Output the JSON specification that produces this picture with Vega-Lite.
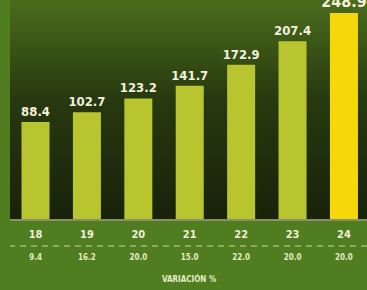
{
  "$schema": "https://vega.github.io/schema/vega-lite/v6.json",
  "autosize": {"type": "none"},
  "width": 357,
  "height": 221,
  "padding": {"left": 10, "top": 0, "right": 0, "bottom": 69},
  "background": "#4f7d1f",
  "config": {"view": {"stroke": null}},
  "datasets": {
    "bars": [
      {"year": "18", "value": 88.4, "pct": "9.4"},
      {"year": "19", "value": 102.7, "pct": "16.2"},
      {"year": "20", "value": 123.2, "pct": "20.0"},
      {"year": "21", "value": 141.7, "pct": "15.0"},
      {"year": "22", "value": 172.9, "pct": "22.0"},
      {"year": "23", "value": 207.4, "pct": "20.0"},
      {"year": "24", "value": 248.9, "pct": "20.0"}
    ],
    "bg": [{"top": 268.1, "bottom": -57.4, "line": -55.8, "dash": -94.2, "pctrow": -111.9}]
  },
  "layer": [
    {
      "data": {"name": "bg"},
      "mark": {"type": "rect", "color": {"gradient": "linear", "x1": 0, "y1": 0, "x2": 0, "y2": 1,
        "stops": [{"offset": 0, "color": "#4b6c1c"}, {"offset": 0.45, "color": "#27390f"}, {"offset": 1, "color": "#17220a"}]}},
      "encoding": {
        "y": {"field": "top", "type": "quantitative", "scale": {"domain": [-57.4, 268.1], "zero": false, "nice": false}, "axis": null},
        "y2": {"field": "bottom"}
      }
    },
    {
      "data": {"name": "bars"},
      "mark": {"type": "bar"},
      "encoding": {
        "x": {"field": "year", "type": "nominal", "sort": null,
          "scale": {"paddingInner": 0.455, "paddingOuter": 0.2, "align": 0.56},
          "axis": {"title": "VARIACIÓN %", "domain": false, "ticks": false, "labelAngle": 0,
            "labelColor": "#eef0d8", "labelFont": "DejaVu Sans Condensed", "labelFontWeight": "bold", "labelFontSize": 11,
            "labelPadding": 7, "titleColor": "#e6ecc8", "titleFont": "DejaVu Sans Condensed", "titleFontWeight": "bold",
            "titleFontSize": 8, "titlePadding": 36}},
        "y": {"field": "value", "type": "quantitative", "scale": {"domain": [-57.4, 268.1], "zero": false, "nice": false}, "axis": null},
        "y2": {"datum": -54.5},
        "color": {"condition": {"test": "datum.year == '24'", "value": "#f6d70a"}, "value": "#b8c52f"}
      }
    },
    {
      "data": {"name": "bars"},
      "mark": {"type": "text", "baseline": "bottom", "dy": -3, "font": "DejaVu Sans Condensed", "fontWeight": "bold", "color": "#f3f1de"},
      "encoding": {
        "x": {"field": "year", "type": "nominal", "sort": null},
        "y": {"field": "value", "type": "quantitative"},
        "text": {"field": "value", "type": "quantitative", "format": ".1f"},
        "size": {"condition": {"test": "datum.year == '24'", "value": 16}, "value": 13}
      }
    },
    {
      "data": {"name": "bars"},
      "mark": {"type": "text", "baseline": "middle", "font": "DejaVu Sans Condensed", "fontWeight": "bold", "fontSize": 8, "color": "#e4ebc0"},
      "encoding": {
        "x": {"field": "year", "type": "nominal", "sort": null},
        "y": {"datum": -111.9, "type": "quantitative"},
        "text": {"field": "pct"}
      }
    },
    {
      "data": {"name": "bg"},
      "mark": {"type": "rule", "color": "#d6dba8", "strokeWidth": 1.5, "opacity": 0.8},
      "encoding": {"y": {"field": "line", "type": "quantitative"}}
    },
    {
      "data": {"name": "bg"},
      "mark": {"type": "rule", "color": "#c9d89c", "strokeWidth": 1.2, "strokeDash": [6, 5]},
      "encoding": {"y": {"field": "dash", "type": "quantitative"}}
    }
  ]
}
